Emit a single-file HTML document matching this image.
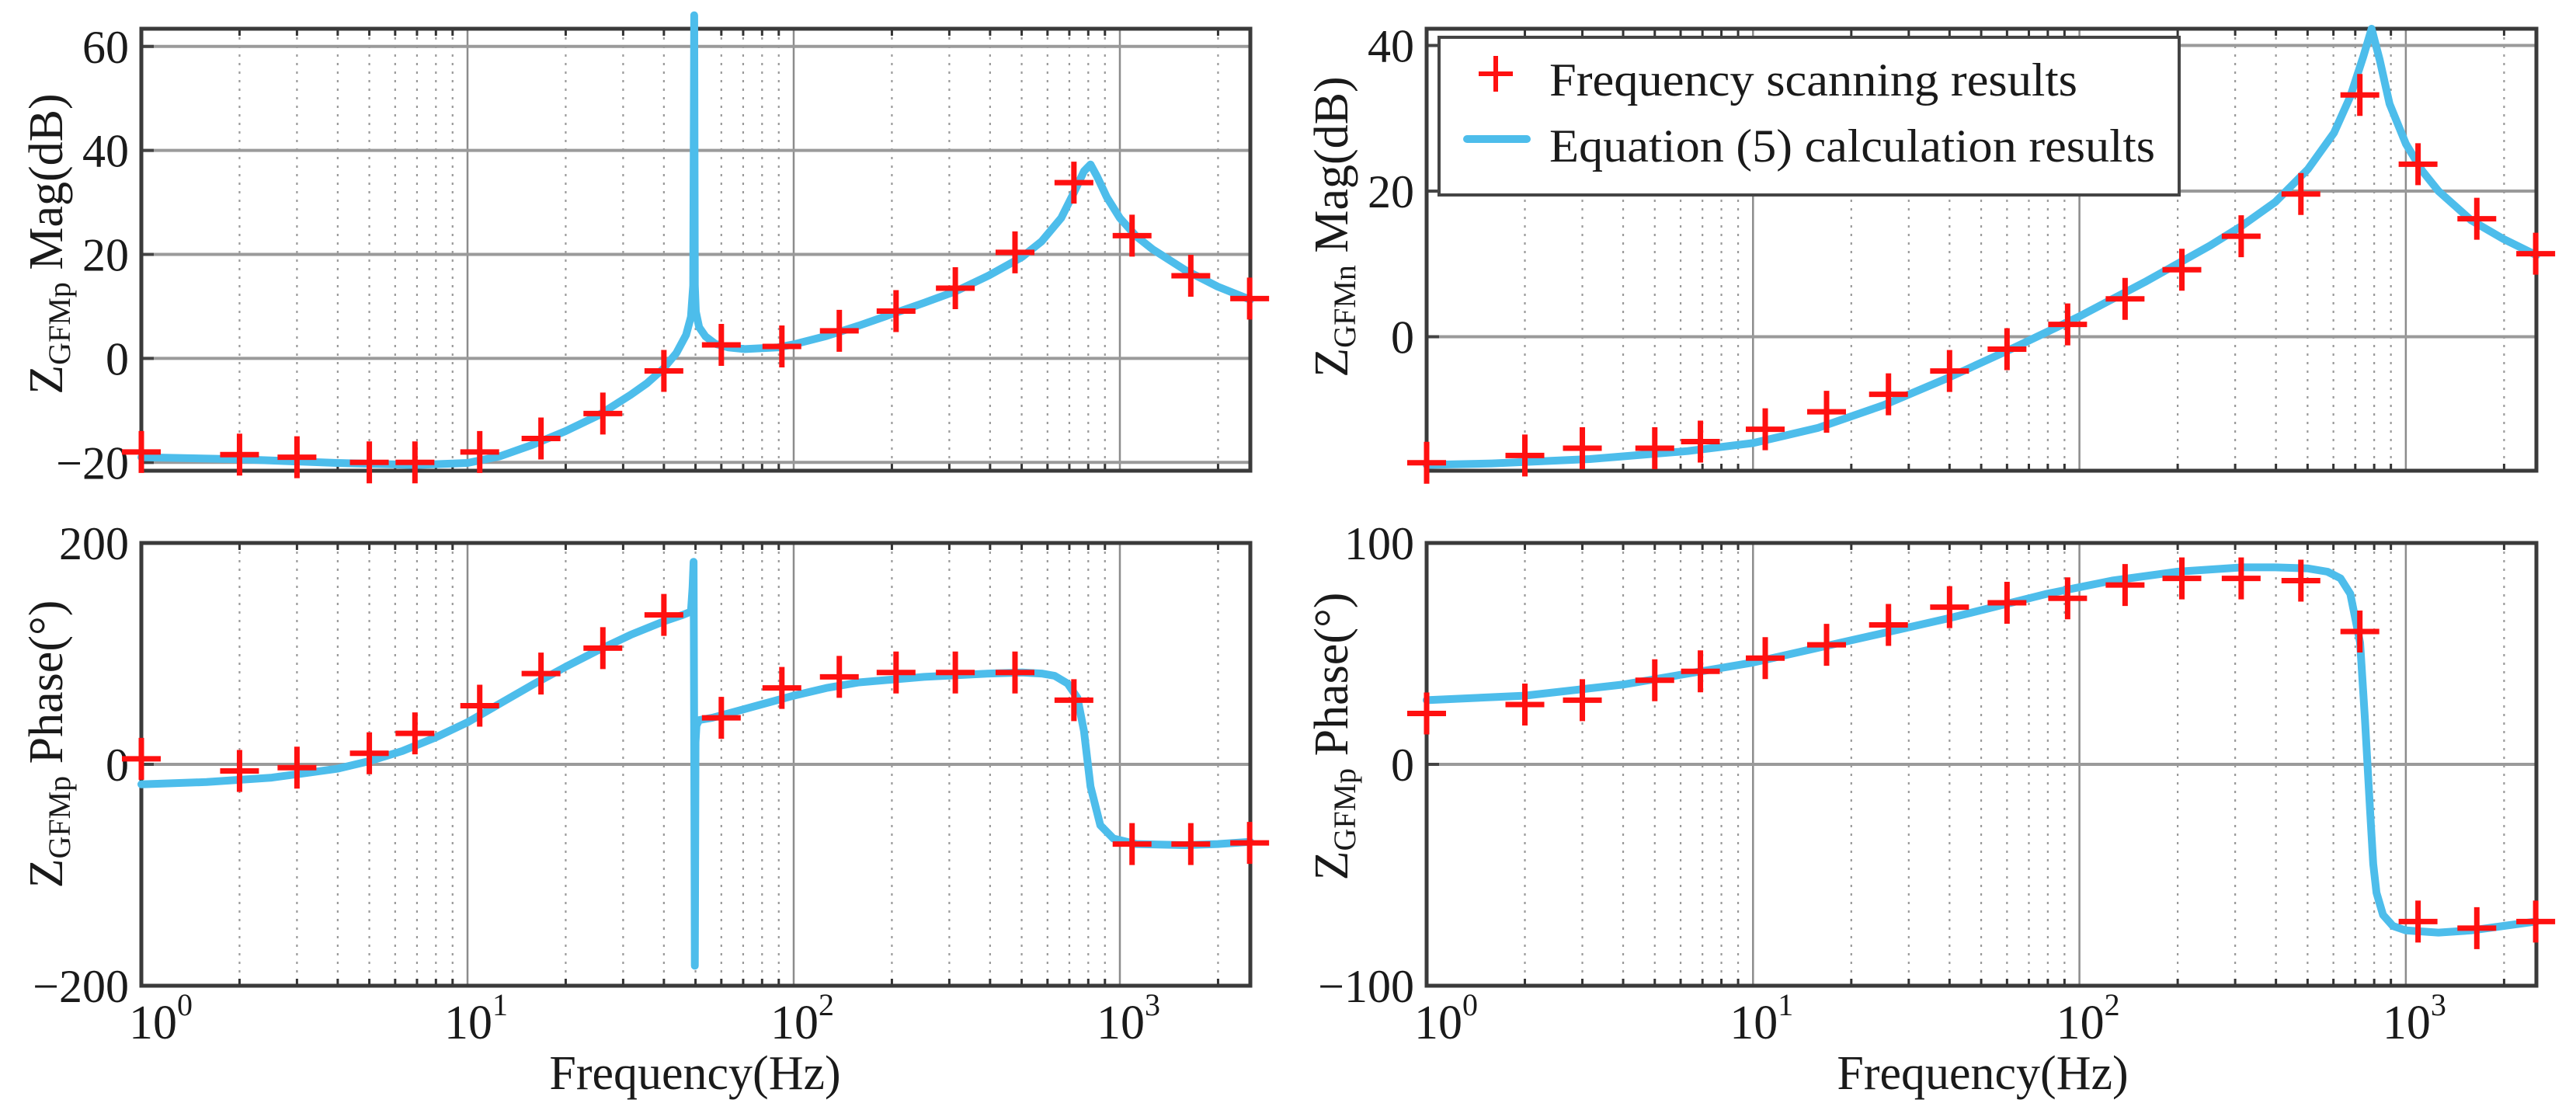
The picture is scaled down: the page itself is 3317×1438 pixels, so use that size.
<!DOCTYPE html>
<html><head><meta charset="utf-8">
<style>
html,body{margin:0;padding:0;background:#fff;}
svg{display:block;}
text{font-family:"Liberation Serif",serif;fill:#1a1a1a;}
</style></head>
<body>
<svg id="chart" width="3317" height="1438" viewBox="0 0 3317 1438" xmlns="http://www.w3.org/2000/svg">
<g id="root"></g>
</svg>
<script>
// ---- data (log10 frequency for curves; Hz for markers) ----
const markerFreqs = [1,2,3,5,6.9,10.9,16.8,26,40,60,92,138,206,313,477,723,1090,1650,2500];
const leftMagScan = [-18,-18.5,-19,-20,-20,-18,-15.4,-10.6,-2.4,2.6,2.3,5.3,9.1,13.5,20.4,33.8,23.6,15.9,11.5];
const leftPhaseScan = [5,-6,-3,10,28,53,82,105,135,42,69,79,83,83,83,58,-72,-72,-71];
const rightMagScan = [-17.3,-16.3,-15.3,-15.3,-14.4,-12.7,-10.3,-7.9,-4.7,-1.7,1.7,5.2,9.2,13.8,19.6,33.2,23.7,16.2,11.4];
const rightPhaseScan = [23,27,29,38,42,48,54,63,71,73,75,81,84,84,83,60,-71,-74,-71];

const leftMagCurveX = [0,0.3,0.6,0.84,1.0,1.1,1.2,1.3,1.4,1.5,1.55,1.6,1.64,1.67,1.685,1.692,1.695,1.697,1.70,1.71,1.73,1.76,1.8,1.85,1.95,2.0,2.1,2.2,2.3,2.4,2.5,2.6,2.7,2.76,2.82,2.86,2.89,2.91,2.93,2.96,3.0,3.05,3.1,3.2,3.3,3.4];
const leftMagCurveY = [-19,-19.4,-20.1,-20.5,-20.1,-18.8,-16.6,-14,-11,-7,-4.8,-2,1,4.5,8,14,66,14,9,6,4.2,2.8,2.1,1.8,2.1,2.7,4.3,6.3,8.5,10.7,13,16,19.5,22.5,27,32,36,37.3,35,31,27,23.5,21,17,13.8,11.3];
const leftPhaseCurveX = [0,0.2,0.4,0.6,0.7,0.8,0.9,1.0,1.1,1.2,1.3,1.4,1.5,1.6,1.66,1.685,1.690,1.693,1.695,1.697,1.699,1.702,1.71,1.75,1.8,1.9,2.0,2.1,2.2,2.4,2.6,2.7,2.76,2.8,2.84,2.87,2.89,2.91,2.94,2.98,3.05,3.2,3.3,3.4];
const leftPhaseCurveY = [-18,-16,-12,-4,3,12,24,38,55,72,88,103,117,129,135,138,160,183,20,-182,20,35,40,42,46,54,62,69,74,79,82,83,82,80,73,60,30,-20,-55,-67,-72,-73,-72,-70];
const rightMagCurveX = [0,0.2,0.5,0.8,1.0,1.2,1.4,1.6,1.8,2.0,2.2,2.4,2.5,2.6,2.7,2.78,2.83,2.87,2.895,2.92,2.95,3.0,3.05,3.1,3.2,3.3,3.4];
const rightMagCurveY = [-17.6,-17.4,-16.8,-15.7,-14.6,-12.5,-9.4,-5.6,-1.5,2.8,7.5,12.5,15.3,18.5,23,28,33,38.5,42.3,38,32,26.5,22.8,20,16,13.4,11.2];
const rightPhaseCurveX = [0,0.3,0.6,1.0,1.3,1.6,1.9,2.1,2.3,2.5,2.6,2.7,2.76,2.8,2.83,2.86,2.875,2.89,2.9,2.91,2.93,2.96,3.0,3.1,3.2,3.3,3.4];
const rightPhaseCurveY = [29,31,36,46,56,66,77,83,87,89,89,88.5,87,84,77,55,20,-20,-45,-58,-68,-73,-75,-76,-75,-73,-71];

const yTicksLeftMag = [-20,0,20,40,60];
const yTicksLeftPhase = [-200,0,200];
const yTicksRightMag = [0,20,40];
const yTicksRightMagLabels = ["","0","20","40"];
const yTicksRightPhase = [-100,0,100];
const xDecades = [0,1,2,3];

const NS = "http://www.w3.org/2000/svg";
const root = document.getElementById('root');
function el(tag, attrs, parent, txt){
  const e = document.createElementNS(NS, tag);
  for (const k in attrs) e.setAttribute(k, attrs[k]);
  if (txt !== undefined) e.textContent = txt;
  (parent||root).appendChild(e);
  return e;
}
const LOGMAX = 3.4;
function makeAxes(x0, x1, yTop, yBot, vTop, vBot){
  const xs = lf => x0 + (lf/LOGMAX)*(x1-x0);
  const ys = v => yTop + (vTop - v)/(vTop - vBot)*(yBot - yTop);
  return {xs, ys, x0, x1, yTop, yBot};
}
function drawPanel(ax, name, yTicks, tickLabels, showX){
  const g = el('g', {});
  
  
  // minor grid
  for (let d=0; d<4; d++){
    for (let m=2; m<=9; m++){
      const lf = d + Math.log10(m);
      if (lf > LOGMAX) continue;
      const x = ax.xs(lf);
      const l = el('line', {x1:x, x2:x, y1:ax.yTop, y2:ax.yBot, stroke:'#9a9a9a', 'stroke-width':2.2, 'stroke-dasharray':'3 8'}, g);
      
      
      el('line', {x1:x, x2:x, y1:ax.yTop, y2:ax.yTop+9, stroke:'#333', 'stroke-width':3}, g);
      el('line', {x1:x, x2:x, y1:ax.yBot, y2:ax.yBot-9, stroke:'#333', 'stroke-width':3}, g);
    }
  }
  xDecades.forEach(d => {
    if (d===0) return;
    const x = ax.xs(d);
    const l = el('line', {x1:x, x2:x, y1:ax.yTop, y2:ax.yBot, stroke:'#8c8c8c', 'stroke-width':2.5}, g);
    
    
  });
  yTicks.forEach((v,i) => {
    const y = ax.ys(v);
    const l = el('line', {x1:ax.x0, x2:ax.x1, y1:y, y2:y, stroke:'#9a9a9a', 'stroke-width':4}, g);
    
    
    el('line', {x1:ax.x0, x2:ax.x0+16, y1:y, y2:y, stroke:'#444', 'stroke-width':4}, g);
    const t = el('text', {x:ax.x0-16, y:y+21, 'font-size':60, 'text-anchor':'end'}, g, tickLabels[i]);
    
    
  });
  const f = el('rect', {x:ax.x0, y:ax.yTop, width:ax.x1-ax.x0, height:ax.yBot-ax.yTop, fill:'none', stroke:'#3a3a3a', 'stroke-width':5}, g);
  
  
  if (showX){
    xDecades.forEach(d => {
      const x = ax.xs(d);
      const t = el('text', {x:x-30+ (d===0?14:0), y:ax.yBot+68, 'font-size':62}, g);
      
      
      el('tspan', {}, t, '10');
      el('tspan', {dy:-30, 'font-size':40}, t, String(d));
    });
  }
  return g;
}
function drawCurve(ax, xsArr, ysArr, name){
  let d = '';
  for (let i=0;i<xsArr.length;i++){
    d += (i?'L':'M') + ax.xs(xsArr[i]).toFixed(1) + ',' + ax.ys(ysArr[i]).toFixed(1);
  }
  const p = el('path', {d, fill:'none', stroke:'#4dbdeb', 'stroke-width':10, 'stroke-linejoin':'round', 'stroke-linecap':'round'});
  
  
}
function drawMarkers(ax, vals, name){
  const g = el('g', {});
  
  
  markerFreqs.forEach((f,i) => {
    const x = ax.xs(Math.log10(f)), y = ax.ys(vals[i]);
    const m = el('path', {d:`M${x-25},${y}H${x+25}M${x},${y-27}V${y+27}`, stroke:'#ff1010', 'stroke-width':7, fill:'none'}, g);
    
    
  });
}
function ylabel(x, y, sub, rest, name){
  const t = el('text', {transform:`translate(${x},${y}) rotate(-90)`, 'font-size':62, 'text-anchor':'middle'});
  
  
  el('tspan', {}, t, 'Z');
  el('tspan', {'font-size':40, dy:10}, t, sub);
  el('tspan', {dy:-10}, t, ' ' + rest);
}
function xlabel(x, y, name){
  const t = el('text', {x, y, 'font-size':62, 'text-anchor':'middle'}, root, 'Frequency(Hz)');
  
  
}

// Left plot
const LM = makeAxes(182, 1610, 37, 606, 63.4, -21.6);
const LP = makeAxes(182, 1610, 699, 1269, 200, -200);
drawPanel(LM, 'left-magnitude-panel', yTicksLeftMag, yTicksLeftMag.map(v => v<0 ? '\u2212'+(-v) : String(v)), false);
drawPanel(LP, 'left-phase-panel', yTicksLeftPhase, yTicksLeftPhase.map(v => v<0 ? '\u2212'+(-v) : String(v)), true);
drawCurve(LM, leftMagCurveX, leftMagCurveY, 'left-mag-calc-line');
drawMarkers(LM, leftMagScan, 'left-mag-scan-markers');
drawCurve(LP, leftPhaseCurveX, leftPhaseCurveY, 'left-phase-calc-line');
drawMarkers(LP, leftPhaseScan, 'left-phase-scan-markers');
ylabel(80, 314, 'GFMp', 'Mag(dB)', 'left-mag-y-axis-title');
ylabel(80, 958, 'GFMp', 'Phase(\u00B0)', 'left-phase-y-axis-title');
xlabel(895, 1402, 'left-x-axis-title');

// Right plot
const RM = makeAxes(1837, 3266, 37, 606, 42.3, -18.4);
const RP = makeAxes(1837, 3266, 699, 1269, 100, -100);
drawPanel(RM, 'right-magnitude-panel', yTicksRightMag, yTicksRightMag.map(v => String(v)), false);
drawPanel(RP, 'right-phase-panel', yTicksRightPhase, yTicksRightPhase.map(v => v<0 ? '\u2212'+(-v) : String(v)), true);
drawCurve(RM, rightMagCurveX, rightMagCurveY, 'right-mag-calc-line');
drawMarkers(RM, rightMagScan, 'right-mag-scan-markers');
drawCurve(RP, rightPhaseCurveX, rightPhaseCurveY, 'right-phase-calc-line');
drawMarkers(RP, rightPhaseScan, 'right-phase-scan-markers');
ylabel(1735, 292, 'GFMn', 'Mag(dB)', 'right-mag-y-axis-title');
ylabel(1735, 948, 'GFMp', 'Phase(\u00B0)', 'right-phase-y-axis-title');
xlabel(2553, 1402, 'right-x-axis-title');

// Legend
const lg = el('g', {});


const lr = el('rect', {x:1853, y:48, width:953, height:203, fill:'#fff', stroke:'#444', 'stroke-width':4}, lg);


const lm = el('path', {d:'M1904,95H1948M1926,72V118', stroke:'#ff1010', 'stroke-width':6}, lg);


const lt1 = el('text', {x:1995, y:123, 'font-size':60, textLength:680, lengthAdjust:'spacingAndGlyphs'}, lg, 'Frequency scanning results');


const ll = el('line', {x1:1889, x2:1966, y1:179, y2:179, stroke:'#4dbdeb', 'stroke-width':10, 'stroke-linecap':'round'}, lg);


const lt2 = el('text', {x:1995, y:208, 'font-size':60, textLength:780, lengthAdjust:'spacingAndGlyphs'}, lg, 'Equation (5) calculation results');


</script>
</body></html>
